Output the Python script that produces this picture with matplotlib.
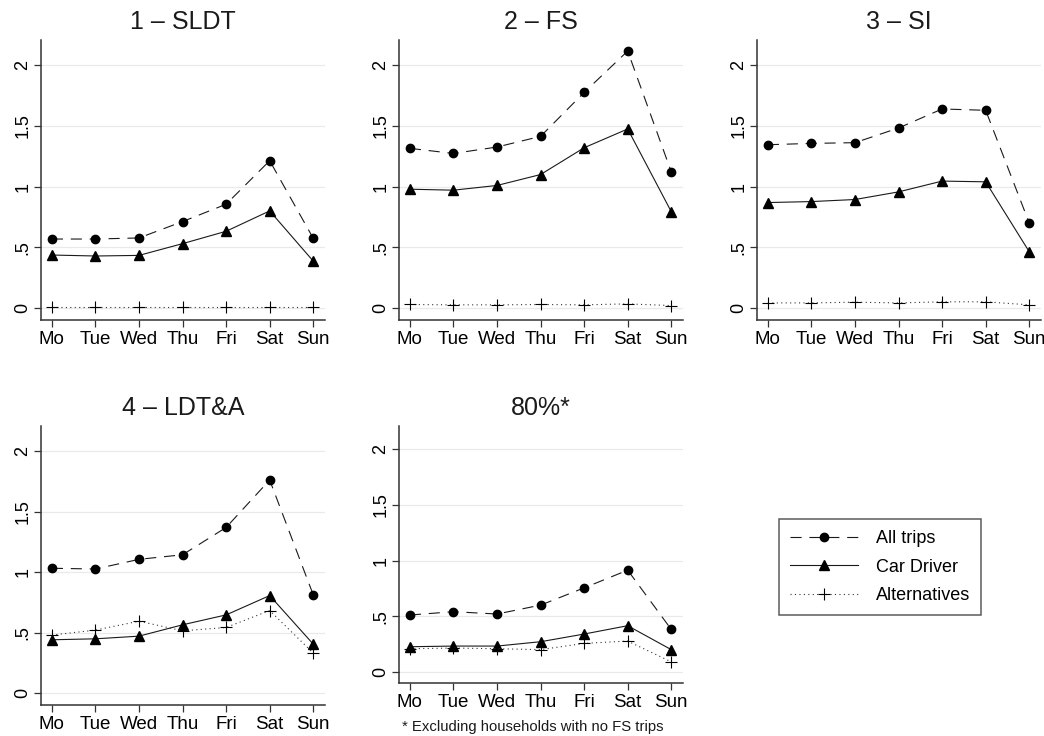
import numpy as np
import matplotlib.pyplot as plt

plt.rcParams['font.family'] = ['Liberation Sans', 'DejaVu Sans']

days = ["Mo", "Tue", "Wed", "Thu", "Fri", "Sat", "Sun"]
titles = ["1 – SLDT", "2 – FS", "3 – SI", "4 – LDT&A", "80%*"]

# all trips / car driver / alternatives per panel
all_trips = [
    [0.568, 0.568, 0.577, 0.712, 0.855, 1.214, 0.574],
    [1.316, 1.274, 1.327, 1.415, 1.777, 2.119, 1.123],
    [1.346, 1.357, 1.363, 1.484, 1.641, 1.630, 0.700],
    [1.032, 1.026, 1.106, 1.144, 1.370, 1.763, 0.812],
    [0.511, 0.541, 0.520, 0.600, 0.755, 0.914, 0.382],
]
car_driver = [
    [0.436, 0.428, 0.433, 0.530, 0.632, 0.800, 0.386],
    [0.979, 0.971, 1.010, 1.100, 1.321, 1.476, 0.794],
    [0.869, 0.877, 0.894, 0.957, 1.046, 1.040, 0.463],
    [0.440, 0.448, 0.470, 0.564, 0.646, 0.806, 0.404],
    [0.226, 0.232, 0.232, 0.271, 0.340, 0.415, 0.200],
]
alternatives = [
    [0.005, 0.005, 0.005, 0.005, 0.005, 0.005, 0.005],
    [0.028, 0.025, 0.025, 0.028, 0.025, 0.033, 0.019],
    [0.041, 0.041, 0.047, 0.041, 0.050, 0.050, 0.025],
    [0.479, 0.520, 0.594, 0.514, 0.542, 0.682, 0.330],
    [0.208, 0.214, 0.208, 0.200, 0.256, 0.277, 0.090],
]

yticks = [0, 0.5, 1, 1.5, 2]
ylabels = ["0", ".5", "1", "1.5", "2"]

W, H = 1044, 736
fig = plt.figure(figsize=(W / 100, H / 100), dpi=100)

# pixel boxes: left, right, top, bottom
boxes = [(41, 325, 40, 320), (399, 683, 40, 320), (757, 1041, 40, 320),
         (41, 325, 426, 705), (399, 683, 426, 683)]

x = np.arange(len(days))
lines = None
for i, (l, r, t, b) in enumerate(boxes):
    ax = fig.add_axes([l / W, 1 - b / H, (r - l) / W, (b - t) / H])
    for yv in yticks:
        ax.axhline(yv, color="#eaeaea", lw=0.9, zorder=0)
    l1, = ax.plot(x, all_trips[i], color="#1a1a1a", lw=0.8, dashes=(10, 7),
                  marker="o", ms=6, mfc="black", mec="black", label="All trips")
    l2, = ax.plot(x, car_driver[i], color="#1a1a1a", lw=0.8, ls="-",
                  marker="^", ms=7, mfc="black", mec="black", label="Car Driver")
    l3, = ax.plot(x, alternatives[i], color="#333333", lw=0.8, dashes=(1, 3),
                  marker="+", ms=9, mew=0.8, mec="black", label="Alternatives")
    lines = [l1, l2, l3]
    ax.set_xlim(-0.25, 6.27)
    ax.set_ylim(-0.1, 2.21)
    ax.set_xticks(x)
    ax.set_xticklabels(days, fontsize=13.5)
    ax.set_yticks(yticks)
    ax.set_yticklabels(ylabels, fontsize=13, rotation=90, va="center")
    ax.tick_params(axis="both", length=5, width=0.9, color="#333333", pad=3)
    ax.tick_params(axis="y", pad=2)
    for s in ["top", "right"]:
        ax.spines[s].set_visible(False)
    for s in ["left", "bottom"]:
        ax.spines[s].set_linewidth(1.1)
        ax.spines[s].set_color("#333333")
    ax.set_title(titles[i], fontsize=18, pad=8, color="#1a1a1a")

fig.text(402 / W, 1 - 727 / H, "* Excluding households with no FS trips",
         fontsize=10.7, va="center", ha="left", color="#1a1a1a")

leg = fig.legend(lines, ["All trips", "Car Driver", "Alternatives"],
                 loc="upper left", bbox_to_anchor=(779 / W, 1 - 519 / H),
                 fontsize=13, frameon=True, fancybox=False, handlelength=3.8,
                 borderpad=0.6, labelspacing=0.65, handletextpad=0.95,
                 borderaxespad=0)
leg.get_frame().set_edgecolor("#333333")
leg.get_frame().set_linewidth(1.1)

fig.savefig("out.png", dpi=100)
